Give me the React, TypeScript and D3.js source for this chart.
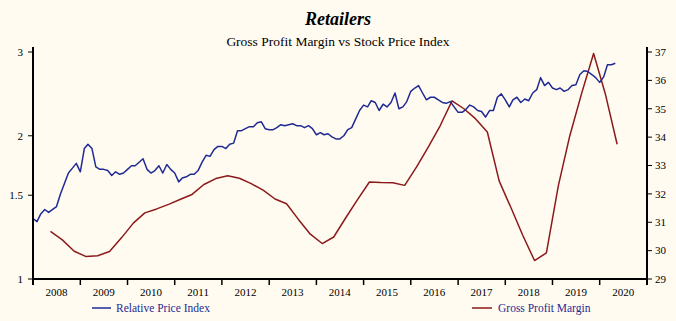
import React, { useEffect } from "react";
import * as d3 from "d3";

const TITLE = "Retailers";
const SUBTITLE = "Gross Profit Margin vs Stock Price Index";
const SERIES_PRICE = "Relative Price Index";
const SERIES_MARGIN = "Gross Profit Margin";

const yearLabels = ["2008","2009","2010","2011","2012","2013","2014","2015","2016","2017","2018","2019","2020"];
const leftTicks = [1, 1.5, 2, 3];
const rightTicks = [29, 30, 31, 32, 33, 34, 35, 36, 37];

// Monthly relative price index, starting Jan 2008
const priceStart = new Date(2008, 0, 1);
const priceIndex = [
  1.34, 1.32, 1.37, 1.40, 1.38, 1.40, 1.42, 1.51, 1.59, 1.67, 1.71, 1.75,
  1.68, 1.88, 1.92, 1.88, 1.72, 1.70, 1.70, 1.69, 1.65, 1.68, 1.66, 1.67,
  1.70, 1.73, 1.73, 1.76, 1.79, 1.70, 1.67, 1.69, 1.73, 1.67, 1.74, 1.70,
  1.67, 1.60, 1.63, 1.64, 1.66, 1.66, 1.69, 1.76, 1.82, 1.81, 1.87, 1.90,
  1.90, 1.88, 1.92, 1.93, 2.05, 2.05, 2.07, 2.09, 2.09, 2.13, 2.14, 2.07,
  2.06, 2.06, 2.08, 2.11, 2.10, 2.11, 2.12, 2.10, 2.10, 2.08, 2.10, 2.07,
  2.01, 2.03, 2.01, 2.02, 1.99, 1.97, 1.97, 2.00, 2.06, 2.08, 2.17, 2.26,
  2.32, 2.30, 2.37, 2.35, 2.26, 2.33, 2.30, 2.35, 2.46, 2.28, 2.30, 2.36,
  2.48, 2.52, 2.55, 2.46, 2.38, 2.41, 2.41, 2.38, 2.35, 2.34, 2.36, 2.30,
  2.24, 2.24, 2.27, 2.32, 2.30, 2.26, 2.25, 2.19, 2.26, 2.26, 2.41, 2.45,
  2.38, 2.30, 2.38, 2.41, 2.35, 2.39, 2.37, 2.46, 2.50, 2.65, 2.55, 2.59,
  2.52, 2.50, 2.52, 2.48, 2.50, 2.55, 2.56, 2.69, 2.74, 2.73, 2.69, 2.65,
  2.59, 2.66, 2.82, 2.82, 2.84
];

// Quarterly gross profit margin (%), starting mid-May 2008
const marginStart = new Date(2008, 4, 15);
const grossMargin = [
  30.68, 30.38, 29.98, 29.79, 29.82, 29.97, 30.45, 30.97, 31.33, 31.47,
  31.63, 31.81, 31.98, 32.33, 32.54, 32.64, 32.55, 32.36, 32.13, 31.82,
  31.65, 31.10, 30.58, 30.25, 30.48, 31.15, 31.80, 32.42, 32.40, 32.39,
  32.30, 32.95, 33.65, 34.40, 35.28, 35.00, 34.65, 34.18, 32.45, 31.50,
  30.55, 29.65, 29.92, 32.28, 34.05, 35.55, 36.95, 35.50, 33.75
];

const W = 676, H = 321;
const BG = "#FFFBF0";
const BLUE = "#1F2A95";
const RED = "#8B1A1A";
const LEGEND_TEXT = "#1F2A95";
const FONT = "'Liberation Serif', 'Times New Roman', serif";

export default function App() {
  useEffect(() => {
    document.body.style.margin = "0";
    document.body.style.background = BG;
  }, []);

  const x = d3.scaleTime()
    .domain([new Date(2008, 0, 1), new Date(2021, 0, 1)])
    .range([33, 647]);
  const yL = d3.scaleLog().domain([1, 3]).range([279, 52]);
  const yR = d3.scaleLinear().domain([29, 37]).range([279, 52]);

  const priceData = priceIndex.map((v, i) => ({ d: d3.timeMonth.offset(priceStart, i), v }));
  const marginData = grossMargin.map((v, i) => ({ d: d3.timeMonth.offset(marginStart, i * 3), v }));

  const priceLine = d3.line<{ d: Date; v: number }>().x(p => x(p.d)).y(p => yL(p.v))(priceData) || "";
  const marginLine = d3.line<{ d: Date; v: number }>().x(p => x(p.d)).y(p => yR(p.v))(marginData) || "";

  const yearTicks = d3.range(0, 14).map(i => new Date(2008 + i, 0, 1));
  const [x0, x1] = x.range();

  return (
    <svg width={W} height={H} style={{ display: "block", background: BG }} fontFamily={FONT}>
      <rect x={0} y={0} width={W} height={H} fill={BG} />
      <text x={W / 2} y={25} textAnchor="middle" fontSize={18} fontWeight="bold" fontStyle="italic" fill="#000">{TITLE}</text>
      <text x={W / 2} y={46} textAnchor="middle" fontSize={13.5} fill="#000">{SUBTITLE}</text>

      {/* data lines */}
      <path d={marginLine} fill="none" stroke={RED} strokeWidth={1.5} strokeLinejoin="round" />
      <path d={priceLine} fill="none" stroke={BLUE} strokeWidth={1.5} strokeLinejoin="round" />

      {/* axes lines */}
      <line x1={x0} x2={x0} y1={47} y2={285} stroke="#000" strokeWidth={2} />
      <line x1={x1} x2={x1} y1={47} y2={285} stroke="#000" strokeWidth={2} />
      <line x1={x0} x2={x1} y1={279} y2={279} stroke="#000" strokeWidth={2} />

      {/* left ticks */}
      {leftTicks.map(t => (
        <g key={"l" + t}>
          <line x1={28} x2={x0} y1={yL(t)} y2={yL(t)} stroke="#000" strokeWidth={1} />
          <text x={23} y={yL(t)} dy="0.35em" textAnchor="end" fontSize={11} fill="#000">{String(t)}</text>
        </g>
      ))}

      {/* right ticks */}
      {rightTicks.map(t => (
        <g key={"r" + t}>
          <line x1={x1} x2={x1 + 5} y1={yR(t)} y2={yR(t)} stroke="#000" strokeWidth={1} />
          <text x={x1 + 8} y={yR(t)} dy="0.35em" textAnchor="start" fontSize={11} fill="#000">{String(t)}</text>
        </g>
      ))}

      {/* x ticks */}
      {yearTicks.map((d, i) => (
        <line key={"x" + i} x1={x(d)} x2={x(d)} y1={279} y2={285} stroke="#000" strokeWidth={1.5} />
      ))}
      {yearLabels.map((lab, i) => (
        <text key={"xl" + lab} x={x(new Date(2008 + i, 6, 1))} y={296} textAnchor="middle" fontSize={11} fill="#000">{lab}</text>
      ))}

      {/* legend */}
      <line x1={92} x2={111} y1={308} y2={308} stroke={BLUE} strokeWidth={1.5} />
      <text x={116} y={312} fontSize={11.5} fill={LEGEND_TEXT}>{SERIES_PRICE}</text>
      <line x1={472} x2={492} y1={308} y2={308} stroke={RED} strokeWidth={1.5} />
      <text x={498} y={312} fontSize={11.5} fill={LEGEND_TEXT}>{SERIES_MARGIN}</text>
    </svg>
  );
}
